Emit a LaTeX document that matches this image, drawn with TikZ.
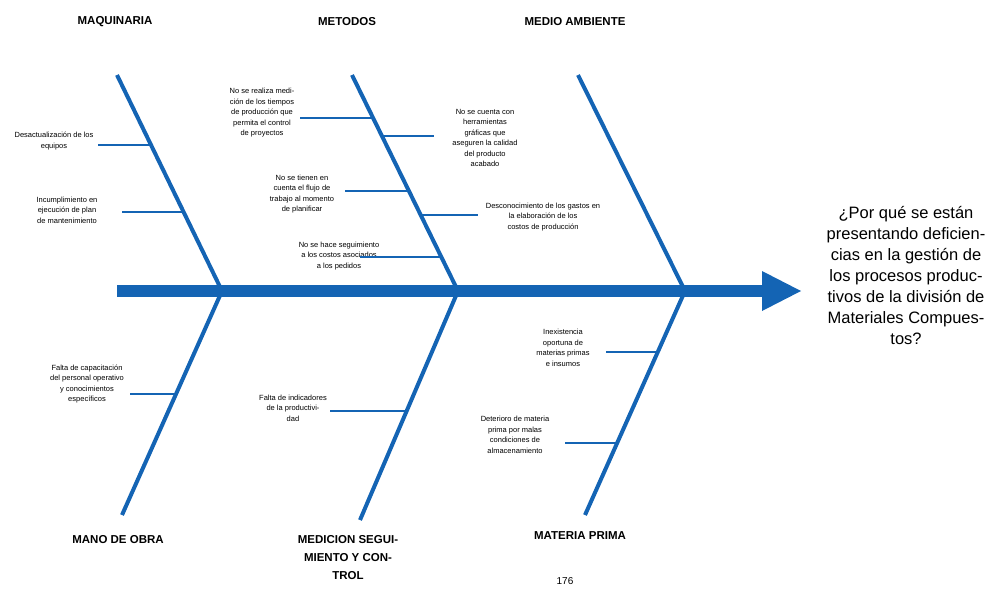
\documentclass[tikz,border=0pt]{standalone}
\usepackage{fontspec}
\setmainfont{Liberation Sans}
\definecolor{fb}{RGB}{20,100,180}
\begin{document}
\begin{tikzpicture}[x=1pt,y=-1pt,
  spine/.style={draw=fb,line width=12pt},
  bone/.style={draw=fb,line width=4pt},
  twig/.style={draw=fb,line width=2.5pt},
  small/.style={font=\fontsize{7.5}{10.5}\selectfont,align=center,inner sep=0pt},
  cat/.style={font=\fontsize{11.5}{18}\selectfont\bfseries,align=center,inner sep=0pt},
  quest/.style={font=\fontsize{16.5}{21}\selectfont,align=center,inner sep=0pt}]
\useasboundingbox (0,0) rectangle (1006,589);
% spine
\coordinate (s0) at (117,291);
\coordinate (s1) at (766,291);
\draw[spine] (s0) -- (s1);
\fill[fb] (762,271) -- (801,291) -- (762,311) -- cycle;
% bones
\coordinate (j1) at (222,291);
\coordinate (j2) at (458,291);
\coordinate (j3) at (685,291);
\coordinate (t1) at (117,75);
\coordinate (t2) at (352,75);
\coordinate (t3) at (578,75);
\coordinate (b1) at (122,515);
\coordinate (b2) at (360,520);
\coordinate (b3) at (585,515);
\draw[bone] (t1) -- (j1);
\draw[bone] (t2) -- (j2);
\draw[bone] (t3) -- (j3);
\draw[bone] (b1) -- (j1);
\draw[bone] (b2) -- (j2);
\draw[bone] (b3) -- (j3);
% category labels
\node[cat] (maq) at (115,22) {MAQUINARIA};
\node[cat] (met) at (347,22) {METODOS};
\node[cat] (med) at (575,22) {MEDIO AMBIENTE};
\node[cat] (mano) at (118,540) {MANO DE OBRA};
\node[cat,anchor=north] (medic) at (348,535) {MEDICION SEGUI-\\MIENTO Y CON-\\TROL};
\node[cat] (mat) at (580,536) {MATERIA PRIMA};
% question
\node[quest] (q) at (906,276) {¿Por qué se están\\presentando deficien-\\cias en la gestión de\\los procesos produc-\\tivos de la división de\\Materiales Compues-\\tos?};
% causes
\node[small] (c1) at (54,141) {Desactualización de los\\equipos};
\node[small] (c2) at (67,210) {Incumplimiento en\\ejecución de plan\\de mantenimiento};
\node[small] (c3) at (262,113) {No se realiza medi-\\ción de los tiempos\\de producción que\\permita el control\\de proyectos};
\node[small] (c4) at (485,138) {No se cuenta con\\herramientas\\gráficas que\\aseguren la calidad\\del producto\\acabado};
\node[small] (c5) at (302,194) {No se tienen en\\cuenta el flujo de\\trabajo al momento\\de planificar};
\node[small] (c6) at (543,217) {Desconocimiento de los gastos en\\la elaboración de los\\costos de producción};
\node[small] (c7) at (339,256) {No se hace seguimiento\\a los costos asociados\\a los pedidos};
\node[small] (c8) at (87,384) {Falta de capacitación\\del personal operativo\\y conocimientos\\específicos};
\node[small] (c9) at (293,408) {Falta de indicadores\\de la productivi-\\dad};
\node[small] (c10) at (563,348) {Inexistencia\\oportuna de\\materias primas\\e insumos};
\node[small] (c11) at (515,435) {Deterioro de materia\\prima por malas\\condiciones de\\almacenamiento};
% twigs
\coordinate (w1a) at (98,145);  \coordinate (w1b) at (151,145);
\coordinate (w2a) at (122,212); \coordinate (w2b) at (184,212);
\coordinate (w3a) at (300,118); \coordinate (w3b) at (373,118);
\coordinate (w4a) at (382,136); \coordinate (w4b) at (434,136);
\coordinate (w5a) at (345,191); \coordinate (w5b) at (409,191);
\coordinate (w6a) at (420,215); \coordinate (w6b) at (478,215);
\coordinate (w7a) at (360,257); \coordinate (w7b) at (441,257);
\coordinate (w8a) at (130,394); \coordinate (w8b) at (176,394);
\coordinate (w9a) at (330,411); \coordinate (w9b) at (407,411);
\coordinate (w10a) at (606,352); \coordinate (w10b) at (658,352);
\coordinate (w11a) at (565,443); \coordinate (w11b) at (617,443);
\foreach \i in {1,...,11} {\draw[twig] (w\i a) -- (w\i b);}
% page number
\node[font=\fontsize{10}{12}\selectfont,inner sep=0pt] (pg) at (565,581) {176};
\end{tikzpicture}
\end{document}
